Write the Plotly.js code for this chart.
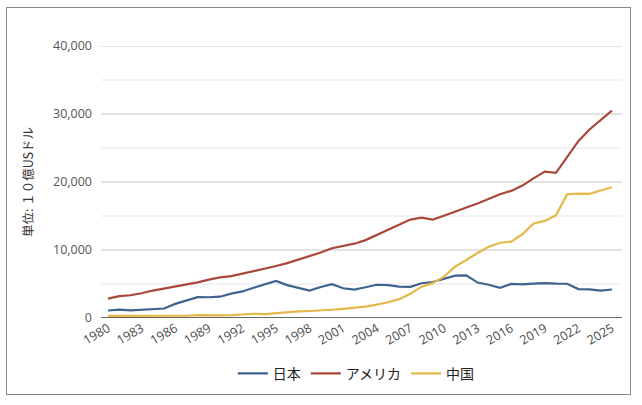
<!DOCTYPE html>
<html>
<head>
<meta charset="utf-8">
<script src="https://cdn.plot.ly/plotly-3.0.1.min.js"></script>
<style>
html,body{margin:0;padding:0;background:#fff;}
#frame{position:absolute;left:6px;top:7px;width:625px;height:388px;border:1px solid #8a8a8a;box-sizing:border-box;}
#chart{position:absolute;left:0;top:0;width:642px;height:405px;}
</style>
</head>
<body>
<div id="frame"></div>
<div id="chart"></div>
<script>
const years = [];
for (let y = 1980; y <= 2025; y++) years.push(y);

const japan = [1105,1218,1134,1243,1318,1399,2078,2532,3072,3054,3133,3584,3909,4454,4907,5449,4834,4415,4033,4563,4968,4374,4183,4520,4893,4832,4602,4579,5106,5289,5759,6233,6272,5212,4897,4445,5004,4931,5041,5118,5055,5034,4256,4213,4026,4187];
const usa = [2857,3207,3343,3634,4037,4339,4580,4855,5236,5642,5963,6158,6520,6859,7287,7640,8073,8577,9063,9631,10251,10582,10929,11456,12217,13039,13816,14474,14770,14478,15049,15600,16254,16843,17551,18206,18695,19477,20533,21521,21354,23681,26007,27721,29185,30507];
const china = [303,295,285,307,316,310,304,330,413,459,398,414,495,626,569,736,867,965,1032,1099,1214,1344,1477,1671,1966,2309,2772,3551,4604,5122,6087,7552,8532,9570,10476,11062,11233,12310,13895,14280,15100,18200,18300,18250,18750,19230];

const names = ['日本','アメリカ','中国'];
const colors = ['#3f6391','#a8473a','#e6b84a'];
const seriesList = [japan, usa, china];

const tickYears = [];
for (let y = 1980; y <= 2025; y += 3) tickYears.push(y);

const traces = seriesList.map((s, i) => ({
  x: years, y: s, name: names[i], type: 'scatter', mode: 'lines',
  line: {color: colors[i], width: 2.2}
}));

const layout = {
  width: 642, height: 405,
  margin: {l: 101, r: 20, t: 46, b: 87, autoexpand: false},
  paper_bgcolor: 'rgba(0,0,0,0)', plot_bgcolor: '#fff',
  font: {family: 'Noto Sans CJK JP, Noto Sans, sans-serif', color: '#555', size: 12},
  showlegend: true,
  legend: {orientation: 'h', x: 0.49, xanchor: 'center', y: -0.205, yanchor: 'middle',
           font: {size: 14, color: '#222'}, itemwidth: 30, tracegroupgap: 0},
  xaxis: {
    automargin: false,
    range: [1979.37, 2025.9], tickvals: tickYears, ticktext: tickYears.map(String),
    tickangle: -30, showgrid: false, zeroline: false, showline: false,
    ticks: '', tickfont: {size: 12.5, color: '#4a4a4a', family: 'Open Sans, sans-serif'}
  },
  yaxis: {
    automargin: false,
    range: [0, 40000], tickvals: [0,10000,20000,30000,40000],
    ticktext: ['0','10,000','20,000','30,000','40,000'],
    showgrid: false, zeroline: false, showline: false, ticks: '',
    ticklabelstandoff: 8,
    tickfont: {size: 12.5, color: '#555', family: 'Open Sans, sans-serif'},
    title: {text: '単位: １０億USドル', font: {size: 12.5, color: '#333'}, standoff: 16}
  },
  shapes: []
};

for (let v = 5000; v <= 40000; v += 5000) {
  layout.shapes.push({type: 'line', xref: 'paper', yref: 'y', x0: 0, x1: 1, y0: v, y1: v,
    line: {color: (v % 10000 === 0) ? '#c8c8c8' : '#e6e6e6', width: 1}, layer: 'below'});
}
layout.shapes.push({type: 'line', xref: 'paper', yref: 'y', x0: 0, x1: 1, y0: 0, y1: 0,
  line: {color: '#333', width: 1.3}});

Plotly.newPlot('chart', traces, layout, {displayModeBar: false, staticPlot: true});
</script>
</body>
</html>
